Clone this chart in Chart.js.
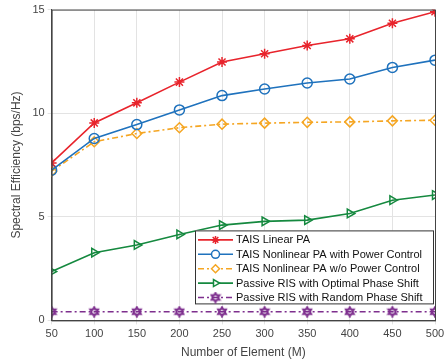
<!DOCTYPE html>
<html>
<head>
<meta charset="utf-8">
<script src="https://cdn.jsdelivr.net/npm/chart.js@4"></script>
<style>
  html, body { margin: 0; padding: 0; background: #fff; }
  #wrap { width: 448px; height: 364px; }
</style>
</head>
<body>
<div id="wrap"><canvas id="myChart" width="448" height="364"></canvas></div>
<script>
const elements = [50, 100, 150, 200, 250, 300, 350, 400, 450, 500];
const linearPA = [7.6, 9.53, 10.5, 11.5, 12.47, 12.87, 13.27, 13.59, 14.34, 14.9];
const nonlinearPC = [7.25, 8.78, 9.45, 10.16, 10.85, 11.17, 11.46, 11.65, 12.21, 12.56];
const nonlinearNoPC = [7.2, 8.62, 9.02, 9.3, 9.47, 9.52, 9.56, 9.58, 9.63, 9.66];
const passiveOpt = [2.36, 3.27, 3.64, 4.15, 4.6, 4.78, 4.84, 5.16, 5.8, 6.05];
const passiveRand = [0.42, 0.42, 0.42, 0.42, 0.42, 0.42, 0.42, 0.42, 0.42, 0.42];
const yTicks = [0, 5, 10, 15];

const font = "'Liberation Sans', Arial, Helvetica, sans-serif";

// hexagram marker for the random phase shift series
function hexagram(color) {
  const c = document.createElement("canvas");
  c.width = 12; c.height = 12;
  const g = c.getContext("2d");
  g.strokeStyle = color;
  g.lineWidth = 1.5;
  const tri = (rot) => {
    g.beginPath();
    for (let k = 0; k < 3; k++) {
      const a = rot + k * 2 * Math.PI / 3;
      const px = 6 + 5 * Math.cos(a), py = 6 + 5 * Math.sin(a);
      k ? g.lineTo(px, py) : g.moveTo(px, py);
    }
    g.closePath();
    g.stroke();
  };
  tri(-Math.PI / 2);
  tri(Math.PI / 2);
  return c;
}

const pts = (arr) => arr.map((v, i) => ({ x: elements[i], y: v }));

const datasets = [
  { label: "TAIS Linear PA", data: pts(linearPA), borderColor: "#e8242c", pointStyle: "star", pointRadius: 5 },
  { label: "TAIS Nonlinear PA with Power Control", data: pts(nonlinearPC), borderColor: "#1f72bd", pointStyle: "circle", pointRadius: 5 },
  { label: "TAIS Nonlinear PA w/o Power Control", data: pts(nonlinearNoPC), borderColor: "#f5a623", pointStyle: "rectRot", pointRadius: 5, borderDash: [6, 3, 2, 3] },
  { label: "Passive RIS with Optimal Phase Shift", data: pts(passiveOpt), borderColor: "#15893f", pointStyle: "triangle", pointRotation: 90, pointRadius: 5 },
  { label: "Passive RIS with Random Phase Shift", data: pts(passiveRand), borderColor: "#7e2f8e", pointStyle: hexagram("#7e2f8e"), pointRadius: 5, borderDash: [6, 3, 2, 3] },
].map((d) => Object.assign({
  backgroundColor: "rgba(0,0,0,0)",
  pointBackgroundColor: "rgba(0,0,0,0)",
  pointBorderColor: d.borderColor,
  pointBorderWidth: 1.5,
  borderWidth: 1.6,
  tension: 0,
}, d));

const boxAndLegend = {
  id: "boxAndLegend",
  afterDraw(chart) {
    const { ctx, chartArea: a } = chart;
    ctx.save();
    ctx.strokeStyle = "#444";
    ctx.lineWidth = 1;
    ctx.strokeRect(a.left + 0.5, a.top + 0.5, a.right - a.left, a.bottom - a.top);

    // legend box inside the plot
    const w = 238, rowH = 14.4, h = 73;
    const lx = a.right - 2 - w, ly = a.bottom - 17 - h;
    ctx.fillStyle = "#fff";
    ctx.fillRect(lx, ly, w, h);
    ctx.strokeStyle = "#333";
    ctx.strokeRect(lx + 0.5, ly + 0.5, w, h);
    ctx.font = "11px " + font;
    ctx.textBaseline = "middle";
    chart.data.datasets.forEach((d, i) => {
      const y = ly + 9.5 + i * rowH;
      ctx.strokeStyle = d.borderColor;
      ctx.lineWidth = 1.6;
      ctx.setLineDash(d.borderDash || []);
      ctx.beginPath();
      ctx.moveTo(lx + 3, y);
      ctx.lineTo(lx + 38, y);
      ctx.stroke();
      ctx.setLineDash([]);
      ctx.lineWidth = 1.5;
      ctx.fillStyle = "#fff";
      Chart.helpers.drawPoint(ctx, { pointStyle: d.pointStyle, rotation: d.pointRotation || 0, radius: 4, borderWidth: 1.5 }, lx + 20.5, y);
      ctx.fillStyle = "#111";
      ctx.fillText(d.label, lx + 41, y + 0.5);
    });
    ctx.restore();
  },
};

new Chart(document.getElementById("myChart"), {
  type: "line",
  data: { datasets },
  options: {
    responsive: false,
    animation: false,
    devicePixelRatio: 1,
    layout: { padding: { top: 0, right: 13, left: 5, bottom: 0 } },
    plugins: { legend: { display: false }, tooltip: { enabled: false } },
    scales: {
      x: {
        type: "linear",
        min: 50,
        max: 500,
        ticks: { stepSize: 50, color: "#444", font: { family: font, size: 11 }, padding: 3, maxRotation: 0 },
        grid: { color: "#e3e3e3", tickLength: 4 },
        border: { color: "#444" },
        title: { display: true, text: "Number of Element (M)", color: "#444", font: { family: font, size: 12 }, padding: { top: 2 } },
      },
      y: {
        min: 0,
        max: 15,
        afterBuildTicks: (s) => { s.ticks = yTicks.map((v) => ({ value: v })); },
        ticks: { color: "#444", font: { family: font, size: 11 }, padding: 3 },
        grid: { color: "#e3e3e3", tickLength: 4 },
        border: { color: "#444" },
        title: { display: true, text: "Spectral Efficiency (bps/Hz)", color: "#444", font: { family: font, size: 12 }, padding: { bottom: 6 } },
      },
    },
  },
  plugins: [boxAndLegend],
});
</script>
</body>
</html>
